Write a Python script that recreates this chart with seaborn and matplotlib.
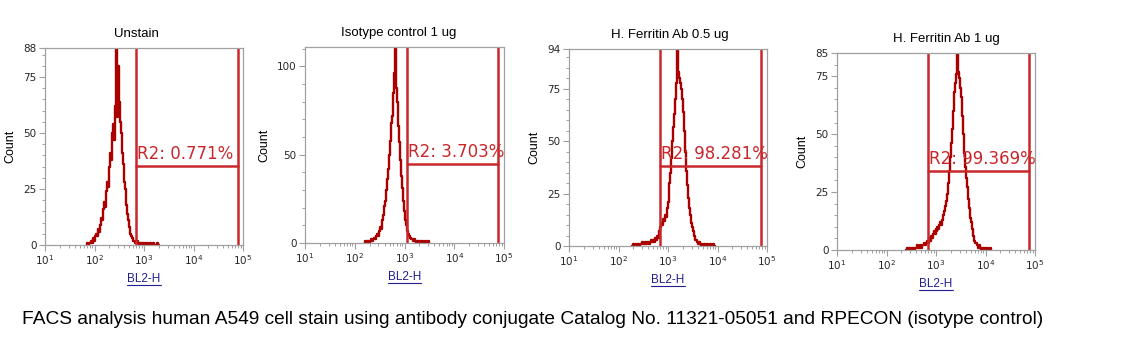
import numpy as np
import pandas as pd
import matplotlib
matplotlib.use("Agg")
import matplotlib.pyplot as plt
import seaborn as sns
from matplotlib.ticker import LogLocator, MultipleLocator, FixedLocator, LogFormatterSciNotation
from matplotlib.lines import Line2D

# ---------------- data ----------------
titles = ["Unstain", "Isotype control 1 ug", "H. Ferritin Ab 0.5 ug", "H. Ferritin Ab 1 ug"]
gate_labels = ["R2: 0.771%", "R2: 3.703%", "R2: 98.281%", "R2: 99.369%"]

# histogram channel start (log10 of BL2-H) and channel width (decades)
start_unstain = 1.84
start_isotype = 2.20
start_fer05 = 2.28
start_fer1 = 2.40
channel_width = 0.02

counts_unstain = [0, 1, 0, 1, 1, 2, 1, 3, 2, 4, 5, 4, 7, 6, 9, 12, 11, 16, 19, 17,
                  24, 28, 26, 35, 41, 38, 50, 54, 47, 62, 88, 57, 80, 64, 55, 50, 41, 36, 28, 25,
                  18, 14, 11, 8, 5, 4, 3, 2, 2, 1, 1, 2, 1, 0, 1, 1, 0, 1, 0, 1,
                  1, 0, 1, 0, 0, 1, 0, 0, 1, 0, 0, 0, 1, 0]
counts_isotype = [0, 1, 0, 1, 1, 0, 1, 2, 1, 2, 3, 2, 4, 5, 4, 7, 9, 8, 13, 16,
                  21, 24, 30, 36, 42, 50, 58, 68, 72, 85, 96, 111, 88, 80, 66, 57, 47, 38, 31, 24,
                  18, 13, 10, 7, 5, 4, 3, 2, 2, 1, 2, 1, 0, 1, 1, 0, 1, 0, 1, 0,
                  0, 1, 0, 0, 1, 0]
counts_fer05 = [0, 1, 0, 1, 0, 1, 1, 0, 1, 1, 2, 1, 1, 2, 1, 2, 2, 1, 2, 3,
                2, 3, 2, 4, 3, 5, 4, 7, 9, 11, 10, 13, 12, 15, 14, 18, 21, 26, 30, 35,
                42, 50, 57, 63, 70, 78, 94, 83, 80, 78, 75, 70, 64, 55, 45, 36, 29, 23, 18, 15,
                11, 9, 7, 5, 3, 3, 2, 1, 2, 1, 0, 1, 0, 1, 1, 0, 1, 0, 0, 1,
                0, 0, 1, 0]
counts_fer1 = [0, 1, 0, 1, 1, 0, 1, 1, 0, 1, 1, 2, 1, 1, 2, 1, 2, 2, 3, 2,
               3, 4, 3, 5, 4, 6, 5, 7, 8, 7, 9, 8, 10, 9, 11, 12, 11, 13, 15, 17,
               19, 21, 24, 29, 34, 40, 46, 52, 60, 68, 72, 76, 85, 77, 74, 70, 66, 58, 50, 42,
               36, 31, 27, 22, 18, 14, 12, 9, 6, 4, 3, 3, 2, 1, 2, 1, 0, 1, 1, 0,
               1, 0, 1, 0, 0, 1, 0]

starts = [start_unstain, start_isotype, start_fer05, start_fer1]
all_counts = [counts_unstain, counts_isotype, counts_fer05, counts_fer1]

# gate R2 (BL2-H limits) and marker height (count)
gate_left = [690, 1100, 690, 690]
gate_right = [80000, 76000, 76000, 76000]
gate_height = [35.3, 44.7, 38.2, 34.0]

y_max = [88, 111, 94, 85]
y_ticks = [[0, 25, 50, 75, 88], [0, 50, 100], [0, 25, 50, 75, 94], [0, 25, 50, 75, 85]]

caption = ("FACS analysis human A549 cell stain using antibody conjugate Catalog No. "
           "11321-05051 and RPECON (isotype control)")

# ---------------- layout ----------------
W, H = 1143, 353
# axes boxes in pixels: left, right, top, bottom
boxes = [(45, 243, 48, 245), (305, 504, 47, 243), (569, 767, 49, 246), (837, 1035, 53, 250)]
title_x = [0.46, 0.47, 0.51, 0.55]

sns.set_theme(style="white")
plt.rcParams['font.family'] = ['DejaVu Sans']

fig = plt.figure(figsize=(W / 100, H / 100), dpi=100)
fig.patch.set_facecolor("white")

hist_color = "#AA0000"
gate_color = "#C8282C"
spine_color = "#A0A0A0"
label_blue = "#1F1F8F"

xlabels = []
for i in range(4):
    l, r, t, b = boxes[i]
    ax = fig.add_axes([l / W, 1 - b / H, (r - l) / W, (b - t) / H])
    ax.set_facecolor("white")
    c = all_counts[i]
    logx = starts[i] + channel_width * np.arange(len(c))
    df = pd.DataFrame({"BL2-H": 10 ** logx, "Count": c})
    sns.lineplot(data=df, x="BL2-H", y="Count", ax=ax, color=hist_color,
                 linewidth=1.7, drawstyle="steps-mid", estimator=None)
    ax.set_xscale("log")
    ax.set_xlim(10, 1e5)
    ax.set_ylim(0, y_max[i])

    # gate
    ax.axvline(gate_left[i], color=gate_color, lw=1.8)
    ax.axvline(gate_right[i], color=gate_color, lw=1.8)
    ax.plot([gate_left[i], gate_right[i]], [gate_height[i], gate_height[i]],
            color=gate_color, lw=1.8)
    ax.annotate(gate_labels[i], xy=(gate_left[i], gate_height[i]),
                xytext=(1, 2), textcoords="offset points",
                ha="left", va="bottom", fontsize=12, color=gate_color)

    # axes styling
    for s in ax.spines.values():
        s.set_color(spine_color)
        s.set_linewidth(0.9)
    ax.xaxis.set_major_locator(LogLocator(base=10, numticks=10))
    ax.xaxis.set_minor_locator(LogLocator(base=10, subs=np.arange(2, 10), numticks=10))
    ax.xaxis.set_major_formatter(LogFormatterSciNotation())
    ax.yaxis.set_major_locator(FixedLocator(y_ticks[i]))
    ax.yaxis.set_minor_locator(MultipleLocator(5 if y_max[i] < 100 else 10))
    ax.tick_params(axis="both", which="major", labelsize=7.5, color=spine_color,
                   length=4, width=0.8, pad=2, direction="out")
    ax.tick_params(axis="both", which="minor", color=spine_color,
                   length=2.5, width=0.7, direction="out")
    ax.tick_params(axis="x", bottom=True, which="both")
    ax.tick_params(axis="y", left=True, which="both")

    ax.set_title(titles[i], fontsize=9.5, pad=8, color="black", x=title_x[i],
                 family=["Liberation Sans"])
    ax.set_ylabel("Count", fontsize=9, labelpad=5, color="black",
                  family=["Liberation Sans"])
    ax.set_xlabel("BL2-H", fontsize=8.5, labelpad=4, color=label_blue,
                  family=["Liberation Sans"])
    xlabels.append(ax.xaxis.label)

fig.text(22 / W, 1 - 320 / H, caption, ha="left", va="center", fontsize=13.8,
         family=["Liberation Sans"], color="black")

# underline the x labels
fig.canvas.draw()
renderer = fig.canvas.get_renderer()
for lab in xlabels:
    bb = lab.get_window_extent(renderer)
    x0, x1 = bb.x0 / W, bb.x1 / W
    y = (bb.y0 - 0.5) / H
    fig.add_artist(Line2D([x0, x1], [y, y], transform=fig.transFigure,
                          color=label_blue, lw=0.8))

fig.savefig("out.png", dpi=100, facecolor="white")
